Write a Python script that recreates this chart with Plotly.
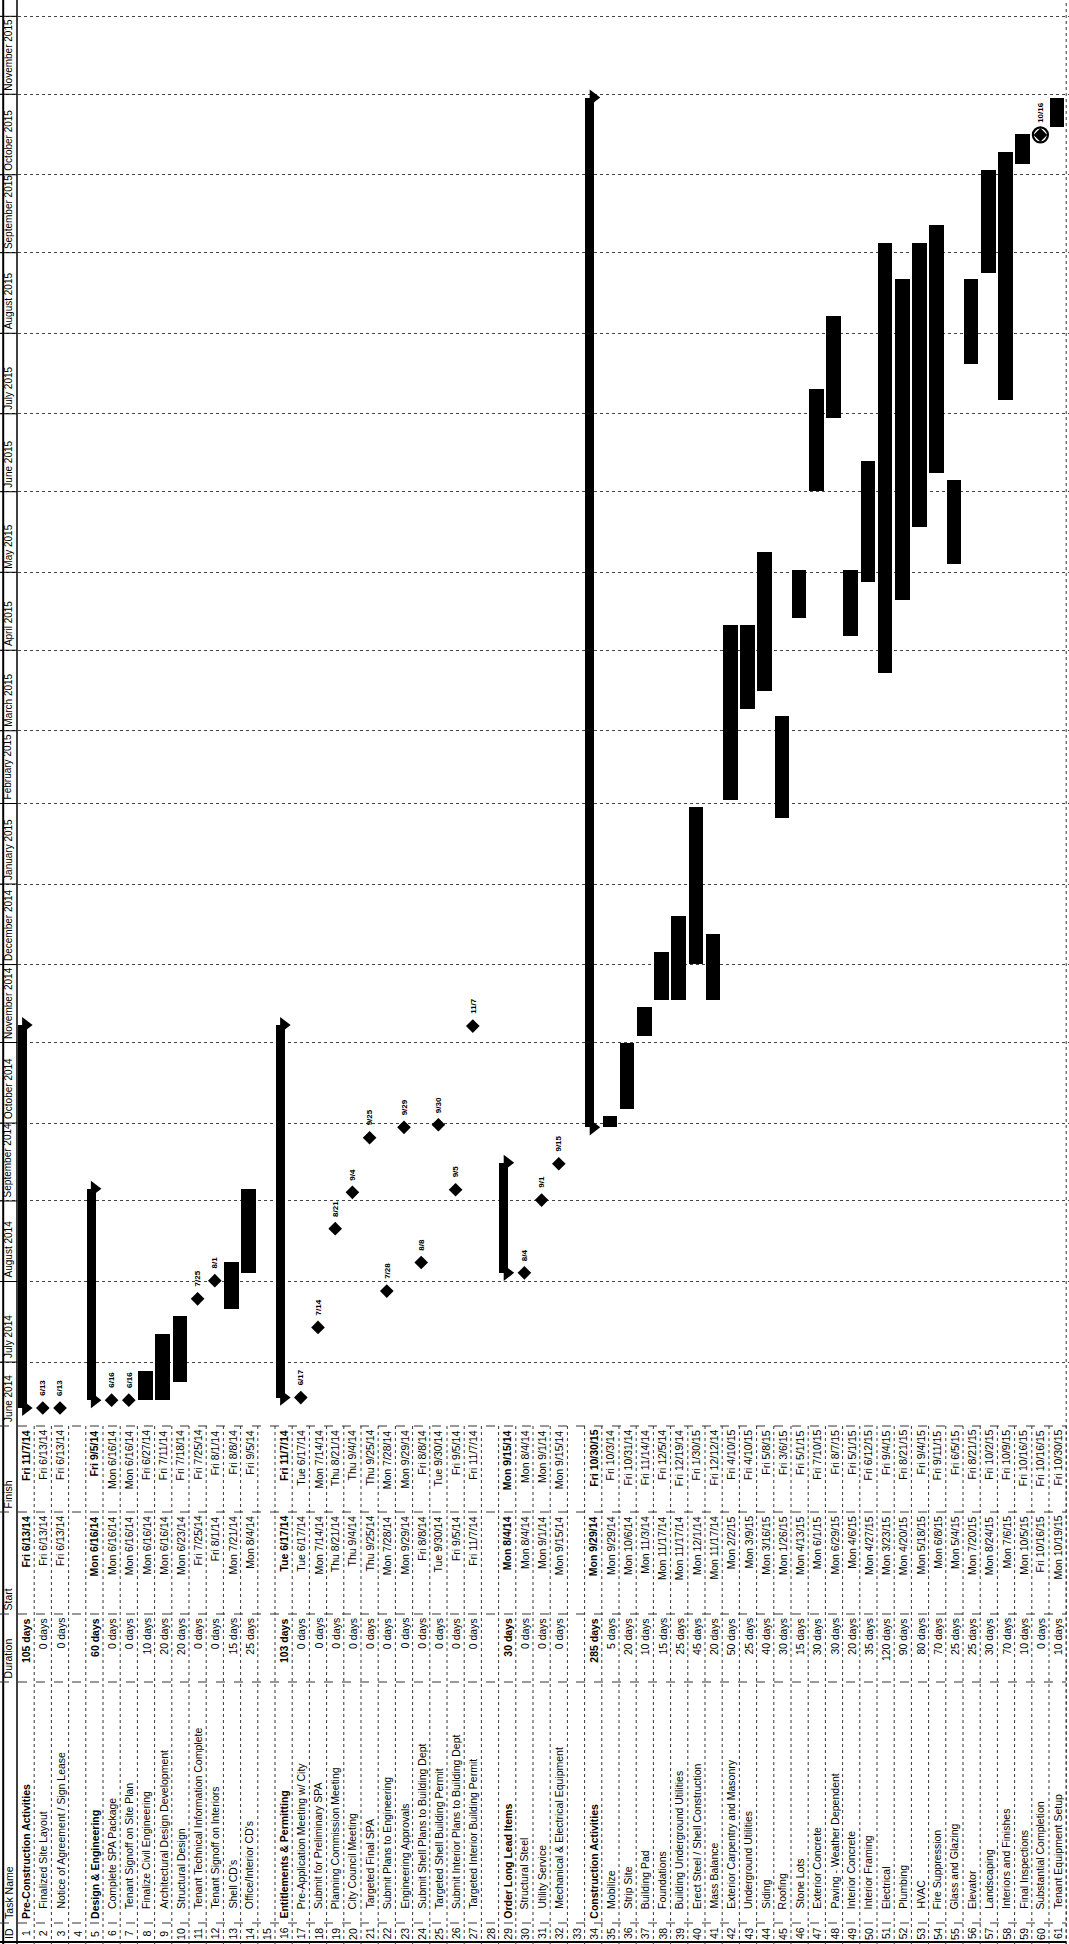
import pandas as pd
import plotly.graph_objects as go

# ---------------- data ----------------
task_ids = list(range(1, 62))
task_names = [
    "Pre-Construction Activities", "Finalized Site Layout", "Notice of Agreement / Sign Lease", "",
    "Design & Engineering", "Complete SPA Package", "Tenant Signoff on Site Plan",
    "Finalize Civil Engineering", "Architectural Design Development", "Structural Design",
    "Tenant Technical Information Complete", "Tenant Signoff on Interiors", "Shell CD's",
    "Office/Interior CD's", "", "Entitlements & Permitting", "Pre-Application Meeting w/ City",
    "Submit for Preliminary SPA", "Planning Commission Meeting", "City Council Meeting",
    "Targeted Final SPA", "Submit Plans to Engineering", "Engineering Approvals",
    "Submit Shell Plans to Building Dept", "Targeted Shell Building Permit",
    "Submit Interior Plans to Building Dept", "Targeted Interior Building Permit", "",
    "Order Long Lead Items", "Structural Steel", "Utility Service",
    "Mechanical & Electrical Equipment", "", "Construction Activities", "Mobilize",
    "Strip Site", "Building Pad", "Foundations", "Building Underground Utilities",
    "Erect Steel / Shell Construction", "Mass Balance", "Exterior Carpentry and Masonry",
    "Underground Utilities", "Siding", "Roofing", "Stone Lots", "Exterior Concrete",
    "Paving - Weather Dependent", "Interior Concrete", "Interior Framing", "Electrical",
    "Plumbing", "HVAC", "Fire Suppression", "Glass and Glazing", "Elevator", "Landscaping",
    "Interiors and Finishes", "Final Inspections", "Substantial Completion",
    "Tenant Equipment Setup",
]
durations = [
    "105 days", "0 days", "0 days", "", "60 days", "0 days", "0 days", "10 days", "20 days",
    "20 days", "0 days", "0 days", "15 days", "25 days", "", "103 days", "0 days", "0 days",
    "0 days", "0 days", "0 days", "0 days", "0 days", "0 days", "0 days", "0 days", "0 days",
    "", "30 days", "0 days", "0 days", "0 days", "", "285 days", "5 days", "20 days",
    "10 days", "15 days", "25 days", "45 days", "20 days", "50 days", "25 days", "40 days",
    "30 days", "15 days", "30 days", "30 days", "20 days", "35 days", "120 days", "90 days",
    "80 days", "70 days", "25 days", "25 days", "30 days", "70 days", "10 days", "0 days",
    "10 days",
]
start_labels = [
    "Fri 6/13/14", "Fri 6/13/14", "Fri 6/13/14", "", "Mon 6/16/14", "Mon 6/16/14",
    "Mon 6/16/14", "Mon 6/16/14", "Mon 6/16/14", "Mon 6/23/14", "Fri 7/25/14", "Fri 8/1/14",
    "Mon 7/21/14", "Mon 8/4/14", "", "Tue 6/17/14", "Tue 6/17/14", "Mon 7/14/14",
    "Thu 8/21/14", "Thu 9/4/14", "Thu 9/25/14", "Mon 7/28/14", "Mon 9/29/14", "Fri 8/8/14",
    "Tue 9/30/14", "Fri 9/5/14", "Fri 11/7/14", "", "Mon 8/4/14", "Mon 8/4/14", "Mon 9/1/14",
    "Mon 9/15/14", "", "Mon 9/29/14", "Mon 9/29/14", "Mon 10/6/14", "Mon 11/3/14",
    "Mon 11/17/14", "Mon 11/17/14", "Mon 12/1/14", "Mon 11/17/14", "Mon 2/2/15",
    "Mon 3/9/15", "Mon 3/16/15", "Mon 1/26/15", "Mon 4/13/15", "Mon 6/1/15", "Mon 6/29/15",
    "Mon 4/6/15", "Mon 4/27/15", "Mon 3/23/15", "Mon 4/20/15", "Mon 5/18/15", "Mon 6/8/15",
    "Mon 5/4/15", "Mon 7/20/15", "Mon 8/24/15", "Mon 7/6/15", "Mon 10/5/15", "Fri 10/16/15",
    "Mon 10/19/15",
]
finish_labels = [
    "Fri 11/7/14", "Fri 6/13/14", "Fri 6/13/14", "", "Fri 9/5/14", "Mon 6/16/14",
    "Mon 6/16/14", "Fri 6/27/14", "Fri 7/11/14", "Fri 7/18/14", "Fri 7/25/14", "Fri 8/1/14",
    "Fri 8/8/14", "Fri 9/5/14", "", "Fri 11/7/14", "Tue 6/17/14", "Mon 7/14/14",
    "Thu 8/21/14", "Thu 9/4/14", "Thu 9/25/14", "Mon 7/28/14", "Mon 9/29/14", "Fri 8/8/14",
    "Tue 9/30/14", "Fri 9/5/14", "Fri 11/7/14", "", "Mon 9/15/14", "Mon 8/4/14", "Mon 9/1/14",
    "Mon 9/15/14", "", "Fri 10/30/15", "Fri 10/3/14", "Fri 10/31/14", "Fri 11/14/14",
    "Fri 12/5/14", "Fri 12/19/14", "Fri 1/30/15", "Fri 12/12/14", "Fri 4/10/15",
    "Fri 4/10/15", "Fri 5/8/15", "Fri 3/6/15", "Fri 5/1/15", "Fri 7/10/15", "Fri 8/7/15",
    "Fri 5/1/15", "Fri 6/12/15", "Fri 9/4/15", "Fri 8/21/15", "Fri 9/4/15", "Fri 9/11/15",
    "Fri 6/5/15", "Fri 8/21/15", "Fri 10/2/15", "Fri 10/9/15", "Fri 10/16/15",
    "Fri 10/16/15", "Fri 10/30/15",
]
summary_rows = [1, 5, 16, 29, 34]
circled_milestones = [60]
month_labels = [
    "June 2014", "July 2014", "August 2014", "September 2014", "October 2014",
    "November 2014", "December 2014", "January 2015", "February 2015", "March 2015",
    "April 2015", "May 2015", "June 2015", "July 2015", "August 2015", "September 2015",
    "October 2015", "November 2015",
]
month_starts = [
    "2014-06-01", "2014-07-01", "2014-08-01", "2014-09-01", "2014-10-01", "2014-11-01",
    "2014-12-01", "2015-01-01", "2015-02-01", "2015-03-01", "2015-04-01", "2015-05-01",
    "2015-06-01", "2015-07-01", "2015-08-01", "2015-09-01", "2015-10-01", "2015-11-01",
    "2015-12-01",
]
table_headers = ["ID", "Task Name", "Duration", "Start", "Finish"]

# ---------------- geometry ----------------
W, H = 1069, 1944
PX_DAY = 2.598          # timescale: pixels per day
ANCHOR_PX = 1440        # pixel row where the first month start would fall
CHART_BOTTOM = 1426     # bottom edge of the timescale area
ROW0, ROWH = 25.6, 17.2
FONT = "Liberation Sans"
FS = 10.5
COLS = {"Finish": (1426, 1512), "Start": (1512, 1614), "Duration": (1614, 1682),
        "Task Name": (1682, 1923), "ID": (1923, 1944)}

t_anchor = pd.Timestamp(month_starts[0])
t_bottom = t_anchor + pd.Timedelta(days=(ANCHOR_PX - CHART_BOTTOM) / PX_DAY)
t_top = t_anchor + pd.Timedelta(days=ANCHOR_PX / PX_DAY)
x_lo = 1 + (0 - ROW0) / ROWH
x_hi = 1 + (W - ROW0) / ROWH


def parse(s):
    return pd.to_datetime(s.split()[1], format="%m/%d/%y")


def fmt(t):
    return t.strftime("%Y-%m-%d %H:%M:%S")


def py(p):
    return 1 - p / H


# ---------------- traces ----------------
bar_x, bar_base, bar_len = [], [], []
sum_x, sum_base, sum_len = [], [], []
cap_x, cap_y = [], []
ms_x, ms_y, ms_text = [], [], []
for i, tid in enumerate(task_ids):
    if not durations[i]:
        continue
    s = parse(start_labels[i])
    f = parse(finish_labels[i])
    if durations[i].startswith("0 "):
        ms_x.append(tid)
        ms_y.append(fmt(s + pd.Timedelta(hours=8)))
        ms_text.append(f"{s.month}/{s.day}")
        continue
    a = s + pd.Timedelta(hours=8)
    b = f + pd.Timedelta(hours=17)
    ms = (b - a).total_seconds() * 1000
    if tid in summary_rows:
        sum_x.append(tid); sum_base.append(fmt(a)); sum_len.append(ms)
        cap_x += [tid, tid]; cap_y += [fmt(a), fmt(b)]
    else:
        bar_x.append(tid); bar_base.append(fmt(a)); bar_len.append(ms)

fig = go.Figure()
fig.add_trace(go.Bar(x=bar_x, y=bar_len, base=bar_base, width=0.84, offset=-0.45,
                     marker=dict(color="black", line=dict(width=0)), hoverinfo="skip"))
fig.add_trace(go.Bar(x=sum_x, y=sum_len, base=sum_base, width=0.52, offset=-0.45,
                     marker=dict(color="black", line=dict(width=0)), hoverinfo="skip"))
fig.add_trace(go.Scatter(x=cap_x, y=cap_y, mode="markers",
                         marker=dict(symbol="triangle-right", size=14, color="black"),
                         hoverinfo="skip"))
fig.add_trace(go.Scatter(x=ms_x, y=ms_y, mode="markers",
                         marker=dict(symbol="diamond", size=10.5, color="black"),
                         hoverinfo="skip"))
circ = [k for k, t in enumerate(ms_x) if t in circled_milestones]
fig.add_trace(go.Scatter(x=[ms_x[k] for k in circ], y=[ms_y[k] for k in circ],
                         mode="markers",
                         marker=dict(symbol="circle-open", size=15, color="black",
                                     line=dict(width=2.2)),
                         hoverinfo="skip"))

annotations = []


def vtext(x, y, text, yanchor, size=FS, yref="paper", yshift=0):
    annotations.append(dict(x=x, y=y, xref="x", yref=yref, text=text, textangle=-90,
                            showarrow=False, xanchor="center", yanchor=yanchor,
                            yshift=yshift, borderpad=0,
                            font=dict(family=FONT, size=size, color="black")))


# milestone labels
for x, y, t in zip(ms_x, ms_y, ms_text):
    vtext(x, y, f"<b>{t}</b>", "bottom", size=8, yref="y", yshift=11)

# month labels (a partly visible month is labelled from the visible edge)
for lab, ms in zip(month_labels, month_starts):
    pos = max(pd.Timestamp(ms), t_bottom)
    vtext(0, fmt(pos), lab, "bottom", size=10, yref="y", yshift=3)

# table headers
for h in table_headers:
    lo, hi = COLS[h]
    if h == "ID":
        vtext(0, py((lo + hi) / 2), h, "middle")
    else:
        vtext(0, py(hi - 3), h, "bottom")

# table cells
for i, tid in enumerate(task_ids):
    bold = tid in summary_rows

    def b(t):
        return f"<b>{t}</b>" if bold else t
    vtext(tid, py(sum(COLS["ID"]) / 2), str(tid), "middle")
    if task_names[i]:
        vtext(tid, py(COLS["Task Name"][1] - 3 - (0 if bold else 10)), b(task_names[i]), "bottom")
    if durations[i]:
        vtext(tid, py(COLS["Duration"][0] + 3), b(durations[i]), "top")
        vtext(tid, py(COLS["Start"][0] + 3), b(start_labels[i]), "top")
        vtext(tid, py(COLS["Finish"][0] + 3), b(finish_labels[i]), "top")

# ---------------- lines ----------------
shapes = []
line_col = "#333333"
for ms in month_starts:
    if pd.Timestamp(ms) <= t_bottom:
        continue
    shapes.append(dict(type="line", xref="x", yref="y", x0=x_lo, x1=0.5, y0=ms, y1=ms,
                       line=dict(color="black", width=1)))
shapes.append(dict(type="line", xref="x", yref="paper", x0=0.5, x1=0.5, y0=0, y1=1,
                   line=dict(color="black", width=1.5)))
shapes.append(dict(type="line", xref="paper", yref="paper", x0=0.003, x1=0.003, y0=0, y1=1,
                   line=dict(color="black", width=2)))
shapes.append(dict(type="line", xref="x", yref="paper", x0=61.5, x1=61.5, y0=0, y1=1,
                   line=dict(color=line_col, width=1, dash="dot")))
for name, (lo, hi) in COLS.items():
    shapes.append(dict(type="line", xref="x", yref="paper", x0=x_lo, x1=61.5,
                       y0=py(lo), y1=py(lo),
                       line=dict(color=line_col, width=1, dash="dash")))
shapes.append(dict(type="line", xref="x", yref="paper", x0=x_lo, x1=61.5,
                   y0=py(1942), y1=py(1942), line=dict(color="black", width=2)))
for tid in task_ids:
    shapes.append(dict(type="line", xref="x", yref="paper", x0=tid + 0.5, x1=tid + 0.5,
                       y0=py(CHART_BOTTOM), y1=0,
                       line=dict(color=line_col, width=1, dash="dot")))

fig.update_layout(
    width=W, height=H, autosize=False,
    margin=dict(l=0, r=0, t=0, b=0),
    paper_bgcolor="white", plot_bgcolor="white",
    showlegend=False, barmode="overlay", bargap=0,
    annotations=annotations, shapes=shapes,
    xaxis=dict(range=[x_lo, x_hi], showgrid=False, zeroline=False, showticklabels=False,
               ticks="", showline=False, fixedrange=True),
    yaxis=dict(type="date", range=[fmt(t_bottom), fmt(t_top)], domain=[py(CHART_BOTTOM), 1],
               showgrid=True, gridcolor="#444444", griddash="dot", gridwidth=1,
               dtick="M1", tick0=month_starts[0], zeroline=False, showticklabels=False,
               ticks="", showline=False, fixedrange=True),
)

fig.write_html(
    "out.html",
    config={"displayModeBar": False},
    post_script="document.documentElement.style.margin='0';"
                "document.body.style.margin='0';document.body.style.padding='0';"
                "document.body.style.overflow='hidden';",
)
